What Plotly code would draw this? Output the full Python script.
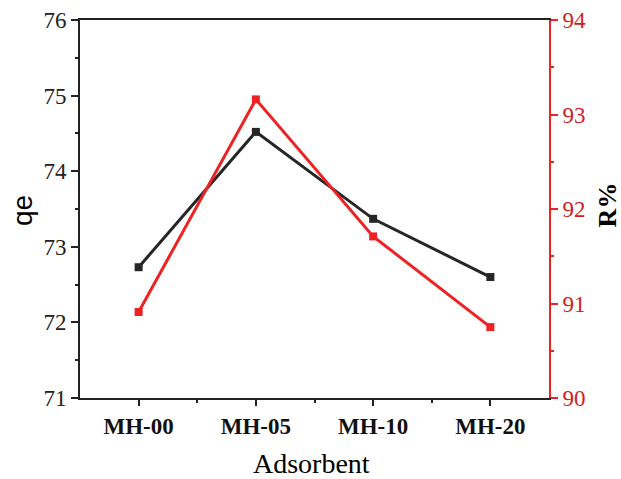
import plotly.graph_objects as go

categories = ["MH-00", "MH-05", "MH-10", "MH-20"]
qe_values = [72.73, 74.52, 73.37, 72.60]
r_values = [90.91, 93.16, 91.71, 90.75]
qe_ticks = [71, 72, 73, 74, 75, 76]
r_ticks = [90, 91, 92, 93, 94]

xpos = list(range(len(categories)))
serif = "Liberation Serif"
sans = "Liberation Sans"

fig = go.Figure()
fig.add_trace(go.Scatter(x=xpos, y=qe_values, mode="lines+markers",
                         line=dict(color="#262626", width=3),
                         marker=dict(symbol="square", size=8, color="#262626"),
                         showlegend=False, hoverinfo="skip"))
fig.add_trace(go.Scatter(x=xpos, y=r_values, mode="lines+markers", yaxis="y2",
                         line=dict(color="#ee2222", width=3),
                         marker=dict(symbol="square", size=8, color="#ee2222"),
                         showlegend=False, hoverinfo="skip"))

fig.update_layout(
    width=621, height=479,
    margin=dict(l=80, r=72, t=20, b=81, autoexpand=False),
    plot_bgcolor="white", paper_bgcolor="white",
    font=dict(family=serif, size=20, color="black"),
    xaxis=dict(range=[-0.5, 3.5], tickmode="array", tickvals=xpos, ticktext=categories,
               showline=True, linecolor="#222", linewidth=2, mirror=True,
               ticks="outside", ticklen=6, tickwidth=2, tickcolor="#222",
               showgrid=False, zeroline=False, automargin=False,
               minor=dict(tickmode="array", tickvals=[0.5, 1.5, 2.5], ticks="outside",
                          ticklen=3, tickwidth=2, tickcolor="#222"),
               tickfont=dict(family=serif, size=23, weight="bold", color="#111")),
    yaxis=dict(range=[71, 76], tickmode="array", tickvals=qe_ticks,
               ticktext=[str(v) for v in qe_ticks],
               showline=True, linecolor="#222", linewidth=2,
               ticks="outside", ticklen=7, tickwidth=2, tickcolor="#222",
               showgrid=False, zeroline=False, automargin=False,
               minor=dict(tickmode="array", tickvals=[71.5, 72.5, 73.5, 74.5, 75.5],
                          ticks="outside", ticklen=3, tickwidth=2, tickcolor="#222"),
               tickfont=dict(family="Times New Roman", size=23, weight="normal", color="#222")),
    yaxis2=dict(range=[90, 94], tickmode="array", tickvals=r_ticks, overlaying="y", side="right",
                ticktext=[str(v) for v in r_ticks],
                showline=True, linecolor="#ee2222", linewidth=2,
                ticks="outside", ticklen=7, tickwidth=2, tickcolor="#ee2222",
                showgrid=False, zeroline=False, automargin=False,
                minor=dict(tickmode="array", tickvals=[90.5, 91.5, 92.5, 93.5],
                           ticks="outside", ticklen=3, tickwidth=2, tickcolor="#ee2222"),
                tickfont=dict(family="Times New Roman", size=23, weight="normal", color="#d42020")),
    annotations=[
        dict(text="qe", xref="paper", yref="paper", x=-0.124, y=0.497, textangle=-90,
             showarrow=False, font=dict(family=sans, size=28, color="black"),
             xanchor="center", yanchor="middle"),
        dict(text="R%", xref="paper", yref="paper", x=1.124, y=0.51, textangle=-90,
             showarrow=False, font=dict(family=serif, size=26, weight="bold", color="black"),
             xanchor="center", yanchor="middle"),
        dict(text="Adsorbent", xref="paper", yref="paper", x=0.493, y=-0.172,
             showarrow=False, font=dict(family=serif, size=28, color="black"),
             xanchor="center", yanchor="middle"),
    ],
)

fig.write_html("out.html", config={"displayModeBar": False},
               post_script="document.body.style.margin='0px';document.body.style.padding='0px';document.body.style.overflow='hidden';")
